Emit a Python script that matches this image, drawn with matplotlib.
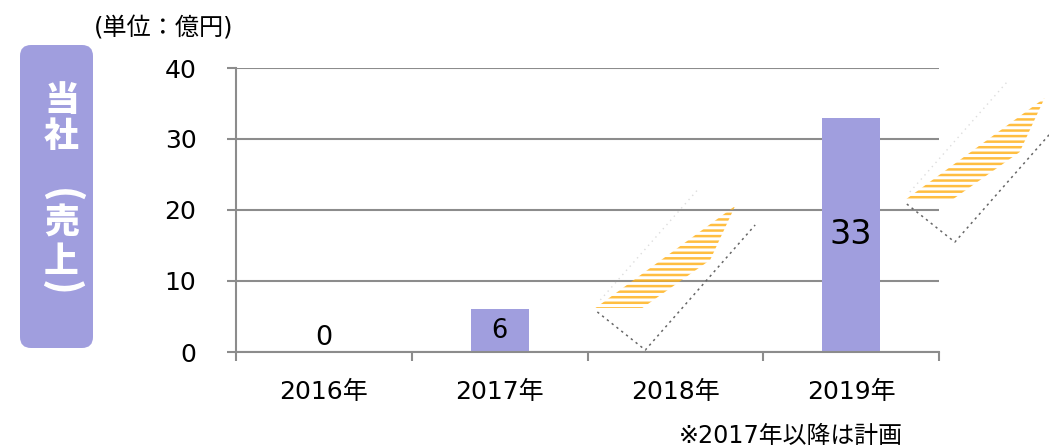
import numpy as np
import matplotlib
matplotlib.use("Agg")
import matplotlib.pyplot as plt
from matplotlib.patches import FancyBboxPatch, Polygon

plt.rcParams['font.family'] = ['DejaVu Sans', 'Noto Sans CJK JP']
plt.rcParams['hatch.linewidth'] = 1.8

# ---- data ----
categories = ["2016年", "2017年", "2018年", "2019年"]
values = [0, 6, np.nan, 33]
label_sizes = [19.5, 18.5, 19, 24]
y_ticks = [0, 10, 20, 30, 40]
unit_text = "(単位：億円)"
note_text = "※2017年以降は計画"
side_chars = ["当", "社", "(", "売", "上", ")"]

# decorative "plan" arrows: base points in data coords
arrow_bases = [(1.545, 6.2), (3.306, 21.4)]
stripe_shape = [(0, 0), (0.267, 0), (0.653, 6.76), (0.795, 14.37)]
dot_shape = [(0.011, -0.56), (0.284, -5.92), (0.909, 11.69)]
faint_shape = [(0.028, 1.13), (0.58, 16.6)]

purple = "#A09EDE"
gray = "#8C8C8C"
orange = (1.0, 0.70, 0.12, 0.85)

W, H = 1049, 446
fig = plt.figure(figsize=(W / 100, H / 100), dpi=100)
ax = fig.add_axes([236 / W, 1 - 352 / H, (939 - 236) / W, (352 - 68) / H])

x = np.arange(len(categories))
ax.bar(x, values, width=0.33, color=purple, zorder=3)
for i, v in enumerate(values):
    if np.isnan(v):
        continue
    ypos = v / 2 if v > 0 else 2
    ax.text(i, ypos, f"{int(v)}", ha="center", va="center",
            fontsize=label_sizes[i], color="black", zorder=5)

ax.set_xlim(-0.5, 3.5)
ax.set_ylim(0, 40)
ax.set_yticks(y_ticks)
ax.set_yticklabels([str(t) for t in y_ticks], fontsize=18)
ax.tick_params(axis="y", length=6.5, width=1.5, color=gray, pad=22)
ax.set_xticks(x)
ax.set_xticklabels(categories, fontsize=18)
ax.set_xticks(np.arange(-0.5, 4.0, 1.0), minor=True)
ax.tick_params(axis="x", which="major", length=0, pad=20)
ax.tick_params(axis="x", which="minor", length=6.5, width=1.5, color=gray)
ax.yaxis.grid(True, color=gray, linewidth=1.5)
ax.set_axisbelow(True)
for s in ["top", "right"]:
    ax.spines[s].set_visible(False)
for s in ["left", "bottom"]:
    ax.spines[s].set_color(gray)
    ax.spines[s].set_linewidth(1.5)
    ax.spines[s].set_zorder(4)

for bx, by in arrow_bases:
    poly = Polygon([(bx + dx, by + dy) for dx, dy in stripe_shape], closed=True,
                   facecolor="none", edgecolor=orange, linewidth=0,
                   hatch="---", clip_on=False, zorder=6)
    ax.add_patch(poly)
    ax.plot([bx + dx for dx, dy in dot_shape], [by + dy for dx, dy in dot_shape],
            linestyle=(0, (1.5, 2.5)), color="#666666", linewidth=1.1,
            clip_on=False, zorder=6)
    ax.plot([bx + dx for dx, dy in faint_shape], [by + dy for dx, dy in faint_shape],
            linestyle=(0, (1, 3)), color="#DDDDDD", linewidth=1,
            clip_on=False, zorder=6)

# overlay in pixel coordinates for annotations
ov = fig.add_axes([0, 0, 1, 1], zorder=-1)
ov.set_xlim(0, W)
ov.set_ylim(H, 0)
ov.axis("off")
ov.add_patch(FancyBboxPatch((20, 45), 73, 303,
                            boxstyle="round,pad=0,rounding_size=11",
                            facecolor=purple, edgecolor="none"))
char_y = [101, 137, 196, 223, 262, 288]
for ch, cy in zip(side_chars, char_y):
    is_paren = ch in "()"
    ov.text(61.5, cy, ch, ha="center", va="center", color="white",
            fontsize=28 if is_paren else 25, fontweight="heavy",
            rotation=-90 if is_paren else 0,
            family=["Noto Sans CJK JP"])
ov.text(164, 28, unit_text, ha="center", va="center", fontsize=17.4)
ov.text(903, 436, note_text, ha="right", va="center", fontsize=17.2)

fig.savefig("out.png", dpi=100)
